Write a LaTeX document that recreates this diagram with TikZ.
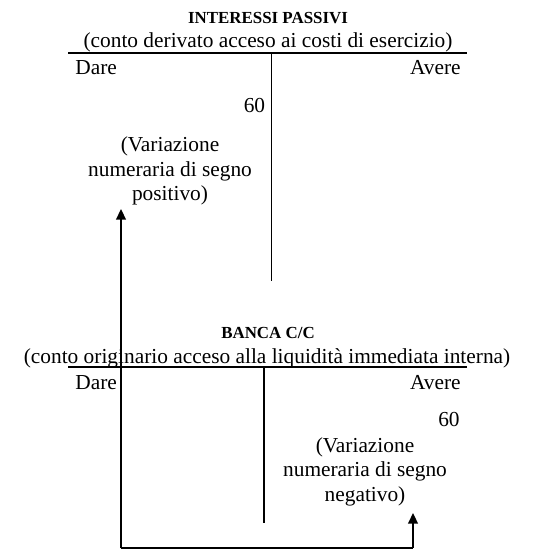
\documentclass[tikz,border=0pt]{standalone}
\usepackage{fontspec}
\setmainfont{Liberation Serif}
\usetikzlibrary{arrows.meta}

\begin{document}
\begin{tikzpicture}[
  x=0.5618pt, y=-0.5618pt,
  every node/.style={inner sep=0pt, font=\fontsize{12}{13.8}\selectfont},
  accname/.style={font=\fontsize{9.5}{11}\selectfont\bfseries, anchor=base},
  accdesc/.style={anchor=base},
  note/.style={align=center, anchor=north},
  tline/.style={line width=0.6pt},
  flow/.style={line width=1pt, -{Triangle[length=6pt,width=5.5pt]}}
]
\useasboundingbox (0,0) rectangle (536,550);

% ---- interessi passivi (upper account) ----
\node[accname] (ipName) at (268,24) {INTERESSI PASSIVI};
\node[accdesc] (ipDesc) at (268,48) {(conto derivato acceso ai costi di esercizio)};
\draw[tline] (68,53) -- (467,53);
\draw[tline] (271.5,53) -- (271.5,281);
\node[anchor=base west] (ipDare) at (75,75) {Dare};
\node[anchor=base east] (ipAvere) at (461,75) {Avere};
\node[anchor=base east] (ipAmount) at (265.5,113) {60};
\node[note] (ipNote) at (170,136.5) {(Variazione\\numeraria di segno\\positivo)};

% ---- banca c/c (lower account) ----
\node[accname] (bcName) at (268,338) {BANCA C/C};
\node[accdesc] (bcDesc) at (267,363) {(conto originario acceso alla liquidità immediata interna)};
\draw[tline] (68,367) -- (467,367);
\draw[tline] (264,367) -- (264,523);
\node[anchor=base west] (bcDare) at (75,389) {Dare};
\node[anchor=base east] (bcAvere) at (461,389) {Avere};
\node[anchor=base east] (bcAmount) at (460,426) {60};
\node[note] (bcNote) at (365,437) {(Variazione\\numeraria di segno\\negativo)};

% ---- flow between the two accounts ----
\coordinate (upTip) at (121,209);
\coordinate (upFoot) at (121,548);
\coordinate (lowFoot) at (413,548);
\coordinate (lowTip) at (413,513);
\draw[flow] (upFoot) -- (upTip);
\draw[line width=1pt] (upFoot) -- (lowFoot);
\draw[flow] (lowFoot) -- (lowTip);

\end{tikzpicture}
\end{document}
